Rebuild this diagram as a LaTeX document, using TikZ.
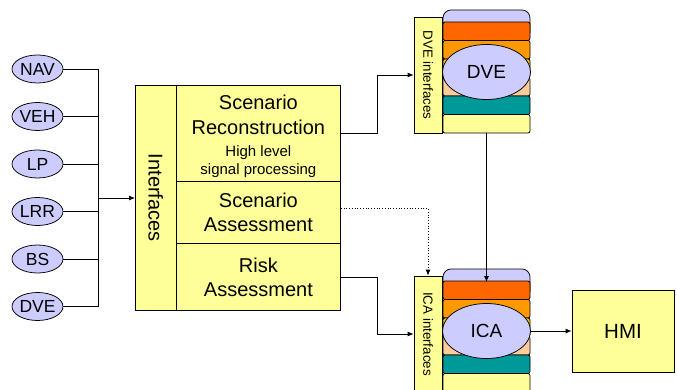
\documentclass[tikz,border=0pt]{standalone}
\usepackage{fontspec}
\setmainfont{Liberation Sans}
\usetikzlibrary{shapes.geometric,arrows.meta}

\definecolor{lavender}{HTML}{CCCCFF}
\definecolor{paleyellow}{HTML}{FFFF99}
\definecolor{redorange}{HTML}{FF6600}
\definecolor{amber}{HTML}{FF9900}
\definecolor{gold}{HTML}{FFCC00}
\definecolor{peach}{HTML}{FFCC99}
\definecolor{teal}{HTML}{009999}

\newcommand\smalltext{\fontsize{15}{18}\selectfont}

\tikzset{
  box/.style={draw, fill=paleyellow, inner sep=0, anchor=north west, align=center,
    font=\fontsize{20}{24}\selectfont},
  bubble/.style={ellipse, draw, fill=lavender, inner sep=0},
  strip/.style={draw, fill=paleyellow, minimum width=28, minimum height=116, inner sep=0,
    font=\fontsize{13.3}{15}\selectfont},
  link/.style={-{Latex[length=6pt,width=5pt]}},
}

\begin{document}
\begin{tikzpicture}[x=1pt, y=-1pt, line width=0.75pt]
  \useasboundingbox (0,0) rectangle (677,390);

  % sources
  \foreach \src/\ypos in {NAV/69, VEH/116.5, LP/164, LRR/211.5, BS/259, DVE/306.5}
    \node[bubble, minimum width=51, minimum height=28, font=\fontsize{17.5}{17.5}\selectfont] (in\src) at (37.5,\ypos) {\src};

  % main block
  \node[box, minimum width=41, minimum height=225] (intf) at (135,85) {\rotatebox{-90}{Interfaces}};
  \node[box, minimum width=164, minimum height=96, font=\fontsize{20}{25}\selectfont] (recon) at (176,85)
    {\raisebox{-3.5pt}[\height][\depth]{\begin{tabular}{@{}c@{}}
      Scenario\\Reconstruction\\[-3pt]
      \smalltext High level\\[-7pt]
      \smalltext signal processing
    \end{tabular}}};
  \node[box, minimum width=164, minimum height=62] (assess) at (176,181) {Scenario\\Assessment};
  \node[box, minimum width=164, minimum height=67] (risk) at (176,243) {Risk\\Assessment};

  \coordinate (bus) at (98,198);
  \foreach \src in {NAV,VEH,LP,LRR,BS,DVE}
    \draw (in\src.east) -- (in\src.east -| bus);
  \draw (inNAV.east -| bus) -- (inDVE.east -| bus);
  \draw[link] (bus) -- (bus -| intf.west);

  % module stacks
  \foreach \name/\lbl/\off in {dve/DVE/0, ica/ICA/259} {
    \draw[fill=lavender, rounded corners=8] (443,10+\off) rectangle (530,40+\off);
    \foreach \c [count=\i from 0] in {redorange,amber,gold,peach,teal,paleyellow}
      \draw[fill=\c, rounded corners=2] (443,22+\off+18.5*\i) rectangle ++(87,18.5);
    \node[strip] (\name-if) at (428,75+\off) {\rotatebox{-90}{\lbl\ interfaces}};
    \node[bubble, minimum width=88, minimum height=55, font=\fontsize{19}{19}\selectfont] (\name) at (486.5,72+\off) {\lbl};
  }
  \coordinate (dvebot) at (486.5,133);
  \coordinate (icatop) at (486.5,282);

  \node[draw, fill=paleyellow, minimum width=102, minimum height=82, font=\fontsize{20.5}{20.5}\selectfont] (hmi) at (623,331) {HMI};

  \draw[link] (recon.east) -- ++(37,0) |- (dve-if.west);
  \draw[link, dotted] ([yshift=4pt]assess.east) -| (ica-if.north);
  \draw[link] (risk.east) -- ++(37,0) |- (ica-if.west);
  \draw[link] (dvebot) -- (icatop);
  \draw[link] (ica.east) -- (hmi.west);
\end{tikzpicture}
\end{document}
